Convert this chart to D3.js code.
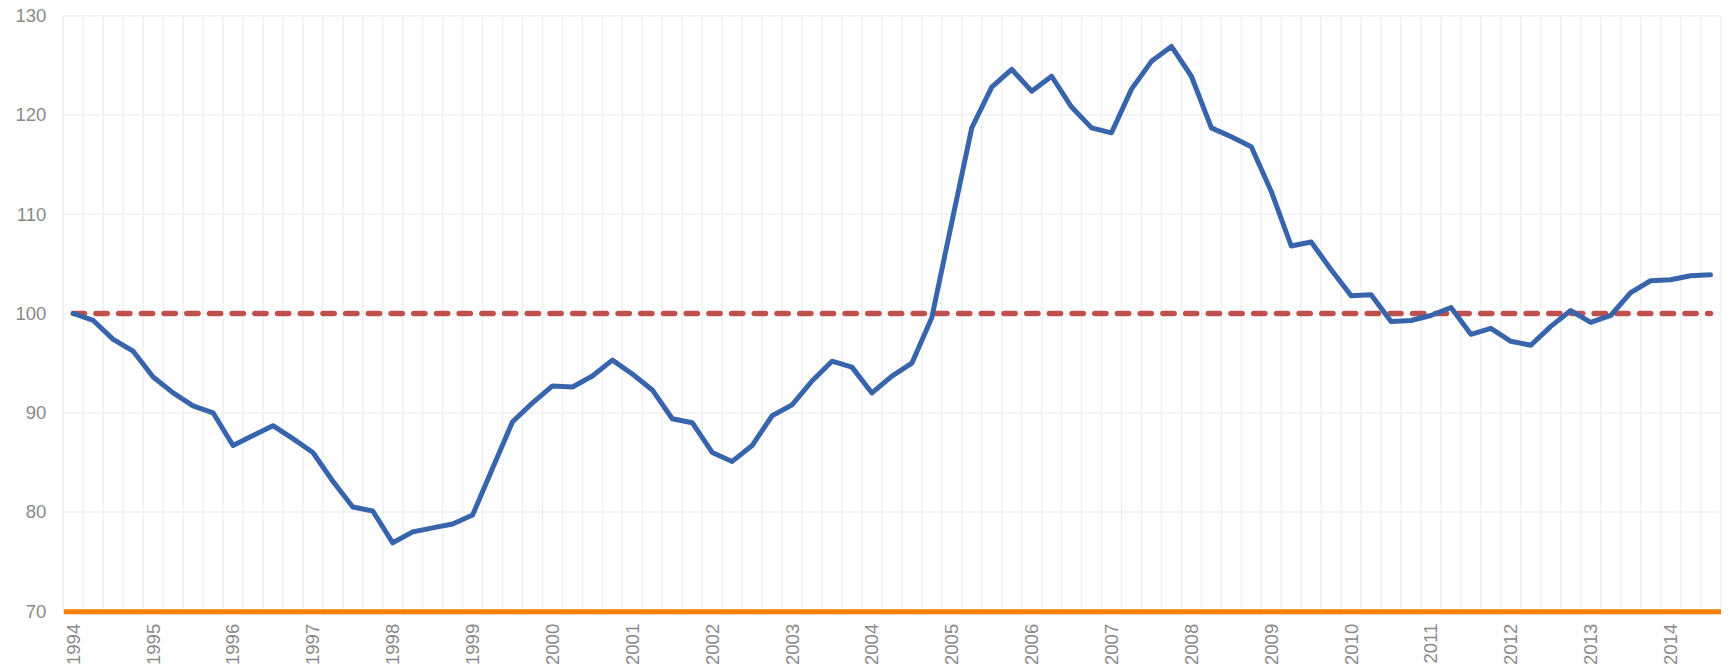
<!DOCTYPE html>
<html>
<head>
<meta charset="utf-8">
<script src="https://cdn.jsdelivr.net/npm/d3@7"></script>
<style>
    body { margin: 0; background: #fff; }
    #chartArea { width: 1730px; height: 664px; }
    text { font-family: "Liberation Sans", Arial, sans-serif; }
</style>
</head>
<body>
<div id="chartArea"></div>
<script>
// Chart data, quarterly from 1994 Q1 to 2014 Q3

const years = ['1994', '1995', '1996', '1997', '1998', '1999', '2000', '2001', '2002', '2003', '2004',
    '2005', '2006', '2007', '2008', '2009', '2010', '2011', '2012', '2013', '2014'];
const quarterNames = ['Q1', 'Q2', 'Q3', 'Q4'];
const quarterCount = 83;

const indexValues = [
    100.0, 99.3, 97.4, 96.2,
    93.6, 92.0, 90.7, 90.0,
    86.7, 87.7, 88.7, 87.4,
    86.0, 83.1, 80.5, 80.1,
    76.9, 78.0, 78.4, 78.8,
    79.7, 84.4, 89.1, 91.0,
    92.7, 92.6, 93.7, 95.3,
    93.9, 92.3, 89.4, 89.0,
    86.0, 85.1, 86.7, 89.7,
    90.8, 93.2, 95.2, 94.6,
    92.0, 93.7, 95.0, 99.6,
    109.2, 118.7, 122.8, 124.6,
    122.4, 123.9, 120.8, 118.7,
    118.2, 122.6, 125.4, 126.9,
    123.9, 118.7, 117.8, 116.8,
    112.3, 106.8, 107.2, 104.4,
    101.8, 101.9, 99.2, 99.3,
    99.8, 100.6, 97.9, 98.5,
    97.2, 96.8, 98.7, 100.3,
    99.1, 99.8, 102.1, 103.3,
    103.4, 103.8, 103.9
];

const baseline = 100;
const yTicks = [70, 80, 90, 100, 110, 120, 130];

// Build the category list (one per quarter)
const quarters = [];
years.forEach(y => quarterNames.forEach(q => quarters.push(y + ' ' + q)));
quarters.length = quarterCount;

const data = quarters.map((q, i) => ({ quarter: q, value: indexValues[i] }));

// Set up chart dimensions
const margin = {top: 15.7, right: 9.5, bottom: 52.7, left: 63.3};
const fullWidth = 1730;
const fullHeight = 664;
const width = fullWidth - margin.left - margin.right;
const height = fullHeight - margin.top - margin.bottom;

const svg = d3.select('#chartArea')
    .append('svg')
    .attr('width', fullWidth)
    .attr('height', fullHeight)
    .append('g')
    .attr('transform', `translate(${margin.left},${margin.top})`);

// Set up scales
const xScale = d3.scaleBand()
    .domain(quarters)
    .range([0, width])
    .padding(0);
const yScale = d3.scaleLinear()
    .domain([70, 130])
    .range([height, 0]);

const xMid = d => xScale(d) + xScale.bandwidth() / 2;

// Vertical gridlines on the quarter boundaries
const boundaries = quarters.map(q => xScale(q)).concat([width]);
svg.append('g')
    .selectAll('line')
    .data(boundaries)
    .enter()
    .append('line')
    .attr('x1', d => d)
    .attr('x2', d => d)
    .attr('y1', 0)
    .attr('y2', height)
    .attr('stroke', '#f0f0f0')
    .attr('stroke-width', 1.5);

// Horizontal gridlines
svg.append('g')
    .selectAll('line')
    .data(yTicks)
    .enter()
    .append('line')
    .attr('x1', 0)
    .attr('x2', width)
    .attr('y1', d => yScale(d))
    .attr('y2', d => yScale(d))
    .attr('stroke', '#f0f0f0')
    .attr('stroke-width', 1.5);

// Add y-axis
const yAxis = svg.append('g')
    .call(d3.axisLeft(yScale).tickValues(yTicks).tickSize(0).tickPadding(17));
yAxis.select('.domain').remove();
yAxis.selectAll('text')
    .attr('fill', '#898989')
    .style('font-size', '18.5px');

// Add x-axis (orange base line at 70)
const xAxis = svg.append('g')
    .attr('transform', `translate(0,${height})`)
    .call(d3.axisBottom(xScale)
        .tickValues(quarters.filter((q, i) => i % 4 === 0))
        .tickFormat(q => q.slice(0, 4))
        .tickSize(0)
        .tickSizeOuter(0));
xAxis.select('.domain')
    .attr('stroke', '#ff8000')
    .attr('stroke-width', 5);
xAxis.selectAll('text')
    .attr('fill', '#898989')
    .style('font-size', '18.5px')
    .attr('transform', 'translate(0,12.5) rotate(-90)')
    .attr('text-anchor', 'end')
    .attr('x', 0)
    .attr('y', 0)
    .attr('dy', '0.35em');

// Reference line at 100
svg.append('line')
    .attr('x1', xMid(quarters[0]))
    .attr('x2', xMid(quarters[quarters.length - 1]))
    .attr('y1', yScale(baseline))
    .attr('y2', yScale(baseline))
    .attr('stroke', '#c0504d')
    .attr('stroke-width', 5.5)
    .attr('stroke-linecap', 'round')
    .attr('stroke-dasharray', '11.2,11.5');

// Create line
svg.append('path')
    .datum(data)
    .attr('fill', 'none')
    .attr('stroke', '#3864ac')
    .attr('stroke-width', 5)
    .attr('stroke-linejoin', 'round')
    .attr('stroke-linecap', 'round')
    .attr('d', d3.line()
        .x(d => xMid(d.quarter))
        .y(d => yScale(d.value))
    );
</script>
</body>
</html>
